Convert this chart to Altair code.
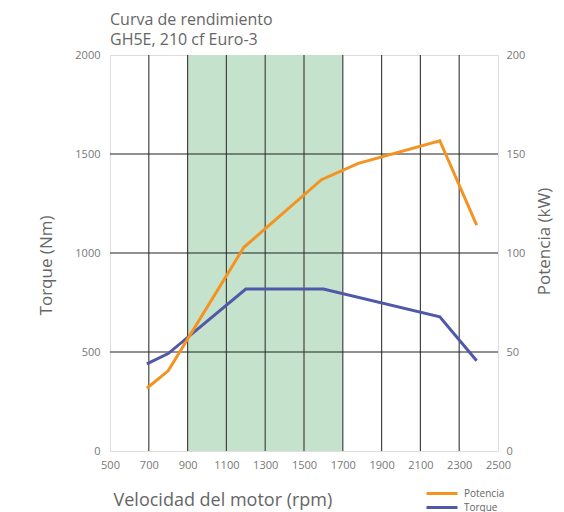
import altair as alt
import pandas as pd

# ---- data ----
rpm_torque = [690, 800, 1200, 1600, 2200, 2390]
torque_nm = [440, 492, 818, 818, 678, 456]

rpm_power = [690, 800, 1190, 1590, 1780, 2200, 2390]
power_kw = [31.7, 40.5, 102.9, 137.0, 145.3, 156.7, 114.1]

band_start = [900]
band_end = [1700]

x_ticks = [500, 700, 900, 1100, 1300, 1500, 1700, 1900, 2100, 2300, 2500]
x_grid = [700, 900, 1100, 1300, 1500, 1700, 1900, 2100, 2300]
y_ticks_left = [0, 500, 1000, 1500, 2000]
y_grid = [500, 1000, 1500]
y_ticks_right = [0, 50, 100, 150, 200]

series = ["Potencia", "Torque"]
colors = ["#f39322", "#5058a8"]

FONT = "Open Sans"

torque_df = pd.DataFrame({"rpm": rpm_torque, "val": torque_nm, "serie": "Torque"})
power_df = pd.DataFrame({"rpm": rpm_power, "val": power_kw, "serie": "Potencia"})
band_df = pd.DataFrame({"a": band_start, "b": band_end})
vgrid_df = pd.DataFrame({"rpm": x_grid})
hgrid_df = pd.DataFrame({"val": y_grid})

xscale = alt.Scale(domain=[500, 2500], nice=False, zero=False)
yscale_l = alt.Scale(domain=[0, 2000], nice=False)
yscale_r = alt.Scale(domain=[0, 200], nice=False)
cscale = alt.Scale(domain=series, range=colors)

x_axis = alt.Axis(
    values=x_ticks, format="d", labelOverlap=False, labelFlush=False,
    grid=False, domain=False, ticks=False,
    labelPadding=8, labelFontSize=11, labelColor="#777", labelFont=FONT,
    title="Velocidad del motor (rpm)", titleFont=FONT, titleFontSize=18,
    titleFontWeight="normal", titleColor="#666", titleAlign="left",
    titleAnchor="start", titleX=3, titleY=54, titleBaseline="alphabetic",
)

y_axis_l = alt.Axis(
    orient="left", values=y_ticks_left, format="d", labelOverlap=False, labelFlush=False,
    grid=False, domain=False, ticks=False,
    labelPadding=10, labelFontSize=11, labelColor="#777", labelFont=FONT,
    title="Torque (Nm)", titleFont=FONT, titleFontSize=17, titleFontWeight="normal",
    titleColor="#666", titleAngle=270, titleAlign="center", titleBaseline="middle",
    titleX=-64, titleY=210,
)

y_axis_r = alt.Axis(
    orient="right", values=y_ticks_right, format="d", labelOverlap=False, labelFlush=False,
    grid=False, domain=False, ticks=False,
    labelPadding=8, labelFontSize=11, labelColor="#777", labelFont=FONT,
    title="Potencia (kW)", titleFont=FONT, titleFontSize=17, titleFontWeight="normal",
    titleColor="#666", titleAngle=270, titleAlign="center", titleBaseline="middle",
    titleX=46, titleY=186,
)

band = alt.Chart(band_df).mark_rect(color="#c5e3cc").encode(
    x=alt.X("a:Q", scale=xscale, axis=x_axis), x2="b:Q"
)
vgrid = alt.Chart(vgrid_df).mark_rule(color="#444", strokeWidth=1.2).encode(
    x=alt.X("rpm:Q", scale=xscale, axis=x_axis)
)
hgrid = alt.Chart(hgrid_df).mark_rule(color="#222", strokeWidth=1.2).encode(
    y=alt.Y("val:Q", scale=yscale_l, axis=y_axis_l)
)

legend = alt.Legend(
    title=None, orient="none", legendX=341, legendY=432,
    symbolType="M-6.2,0H0", symbolSize=100, symbolStrokeWidth=3,
    labelFontSize=10, labelColor="#666", labelFont=FONT,
    rowPadding=1, labelOffset=0, padding=0,
)

torque_line = alt.Chart(torque_df).mark_line(strokeWidth=3).encode(
    x=alt.X("rpm:Q", scale=xscale, axis=x_axis),
    y=alt.Y("val:Q", scale=yscale_l, axis=y_axis_l),
    color=alt.Color("serie:N", scale=cscale, legend=legend),
)

power_line = alt.Chart(power_df).mark_line(strokeWidth=3).encode(
    x=alt.X("rpm:Q", scale=xscale, axis=x_axis),
    y=alt.Y("val:Q", scale=yscale_r, axis=y_axis_r),
    color=alt.Color("serie:N", scale=cscale, legend=legend),
)

left = alt.layer(band, vgrid, hgrid, torque_line)

chart = alt.layer(left, power_line).resolve_scale(y="independent").properties(
    width=388, height=396,
    padding={"left": 102, "top": 47, "right": 58, "bottom": 61},
    autosize=alt.AutoSizeParams(type="none"),
    title=alt.TitleParams(
        text=["Curva de rendimiento", "GH5E, 210 cf Euro-3"],
        anchor="start", frame="group", font=FONT, fontSize=16,
        fontWeight="normal", color="#666", lineHeight=20, offset=1,
    ),
).configure_view(stroke="#555", strokeWidth=1.4).configure(background="white")

chart.save("out.html", embed_options={"renderer": "svg", "actions": False})
